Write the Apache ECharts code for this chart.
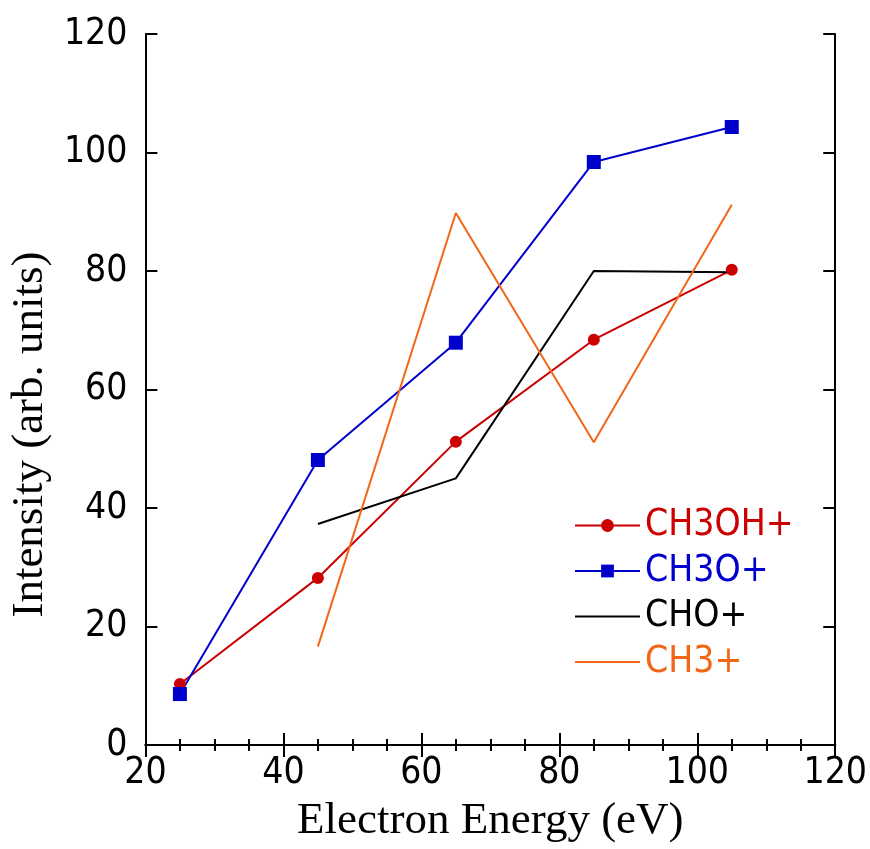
<!DOCTYPE html>
<html>
<head>
<meta charset="utf-8">
<script src="https://cdn.jsdelivr.net/npm/echarts@6/dist/echarts.min.js"></script>
<style>
  html, body { margin: 0; padding: 0; background: #fff; }
  #chart { width: 870px; height: 849px; }
</style>
</head>
<body>
<div id="chart"></div>
<script>
// electron energies (eV)
const energies = [25, 45, 65, 85, 105]
// intensities (arb. units)
const ch3ohValues = [10.3, 28.2, 51.2, 68.4, 80.2]
const ch3oValues = [8.6, 48.1, 67.9, 98.4, 104.3]
const choValues = [37.3, 45.0, 80.0, 79.8]   // starts at 45 eV
const ch3Values = [16.6, 89.8, 51.1, 91.2]   // starts at 45 eV
const xTicks = [20, 40, 60, 80, 100, 120]
const yTicks = [0, 20, 40, 60, 80, 100, 120]

const tickFont = '"Liberation Sans Narrow", "DejaVu Sans Condensed", "Noto Sans CJK JP", sans-serif'
const titleFont = '"Liberation Serif", "DejaVu Serif", serif'

const pairs = (xs, ys) => ys.map((v, i) => [xs[i], v])

const chart = echarts.init(document.getElementById('chart'))

const frameLine = { show: true, lineStyle: { color: '#000', width: 2 } }
const tick = { show: true, inside: true, length: 12, lineStyle: { color: '#000', width: 2 } }
// lines without markers: hide the legend marker
const noMarker = { opacity: 0, borderWidth: 0 }

const option = {
  backgroundColor: '#fff',
  animation: false,
  grid: { left: 144, right: 32, top: 34, bottom: 101 },
  legend: {
    orient: 'vertical',
    left: 574,
    top: 505,
    padding: 0,
    itemWidth: 65,
    itemHeight: 16,
    itemGap: 4.5,
    textStyle: { fontFamily: tickFont, fontSize: 37, lineHeight: 41 },
    data: [
      { name: 'CH3OH+', textStyle: { color: '#cc0000' } },
      { name: 'CH3O+', textStyle: { color: '#0000cc' } },
      { name: 'CHO+', textStyle: { color: '#000' }, itemStyle: noMarker },
      { name: 'CH3+', textStyle: { color: '#f26616' }, itemStyle: noMarker }
    ]
  },
  xAxis: [
    {
      type: 'value', min: xTicks[0], max: xTicks[xTicks.length - 1], interval: 20,
      axisLine: frameLine, axisTick: tick,
      minorTick: { show: true, splitNumber: 4, length: 6, lineStyle: { color: '#000', width: 2 } },
      splitLine: { show: false },
      axisLabel: { color: '#000', fontFamily: tickFont, fontSize: 37, margin: 10 },
      name: 'Electron Energy (eV)', nameLocation: 'middle', nameGap: 54,
      nameTextStyle: { color: '#000', fontFamily: titleFont, fontSize: 45 }
    },
    {
      type: 'value', position: 'top', min: xTicks[0], max: xTicks[xTicks.length - 1], interval: 20,
      axisLine: frameLine, axisTick: tick,
      minorTick: { show: true, splitNumber: 4, length: 6, lineStyle: { color: '#000', width: 2 } },
      splitLine: { show: false }, axisLabel: { show: false }
    }
  ],
  yAxis: [
    {
      type: 'value', min: yTicks[0], max: yTicks[yTicks.length - 1], interval: 20,
      axisLine: frameLine, axisTick: tick, splitLine: { show: false },
      axisLabel: { color: '#000', fontFamily: tickFont, fontSize: 37, margin: 18 },
      name: 'Intensity (arb. units)', nameLocation: 'middle', nameGap: 76,
      nameTextStyle: { color: '#000', fontFamily: titleFont, fontSize: 45, padding: [0, 90, 0, 0] }
    },
    {
      type: 'value', position: 'right', min: yTicks[0], max: yTicks[yTicks.length - 1], interval: 20,
      axisLine: frameLine, axisTick: tick, splitLine: { show: false }, axisLabel: { show: false }
    }
  ],
  series: [
    {
      name: 'CH3OH+', type: 'line', data: pairs(energies, ch3ohValues),
      symbol: 'circle', symbolSize: 12,
      lineStyle: { color: '#cc0000', width: 2 }, itemStyle: { color: '#cc0000' }
    },
    {
      name: 'CH3O+', type: 'line', data: pairs(energies, ch3oValues),
      symbol: 'rect', symbolSize: 14,
      lineStyle: { color: '#0000cc', width: 2 }, itemStyle: { color: '#0000cc' }
    },
    {
      name: 'CHO+', type: 'line', data: pairs(energies.slice(1), choValues),
      symbol: 'none',
      lineStyle: { color: '#000', width: 2 }, itemStyle: { color: '#000' }
    },
    {
      name: 'CH3+', type: 'line', data: pairs(energies.slice(1), ch3Values),
      symbol: 'none',
      lineStyle: { color: '#f26616', width: 2 }, itemStyle: { color: '#f26616' }
    }
  ]
}

chart.setOption(option)
window.addEventListener('resize', () => chart.resize())
</script>
</body>
</html>
